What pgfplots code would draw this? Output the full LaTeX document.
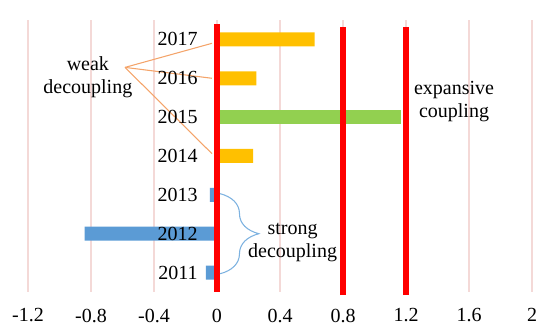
\documentclass[border=0pt]{standalone}
\usepackage{pgfplots}
\pgfplotsset{compat=1.18}
\usepackage{fontspec}
\setmainfont{Liberation Serif}
\usetikzlibrary{decorations.pathreplacing}
\definecolor{cOrange}{HTML}{FFC000}
\definecolor{cGreen}{HTML}{92D050}
\definecolor{cBlue}{HTML}{5B9BD5}
\definecolor{cRed}{HTML}{FF0000}
\definecolor{cGrid}{HTML}{F4D9D7}
\definecolor{cLine}{HTML}{F4A46A}
\definecolor{cBrace}{HTML}{7DB2E0}
\pgfplotsset{
  base/.style={
    at={(0,0)}, anchor=south west,
    scale only axis, width=378pt, height=204pt,
    xmin=-1.2, xmax=2, ymin=-0.5, ymax=6.5,
    axis line style={draw=none},
    major tick length=0pt,
    /pgf/number format/assume math mode=true,
    /pgf/number format/fixed,
    clip=false,
  }
}
\begin{document}
\begin{tikzpicture}
\begin{axis}[
  base,
  axis x line=bottom, axis y line=left,
  xtick={-1.2,-0.8,-0.4,0,0.4,0.8,1.2,1.6,2},
  ytick=\empty,
  xmajorgrids, major grid style={cGrid, line width=0.8pt},
  x tick label style={font=\fontsize{15}{16}\selectfont, yshift=-9pt},
]
\addplot[xbar, bar width=10.5pt, bar shift=0pt, fill=cBlue, draw=none]
  coordinates {(-0.07,0) (-0.84,1) (-0.045,2)};
\addplot[xbar, bar width=10.5pt, bar shift=0pt, fill=cOrange, draw=none]
  coordinates {(0.23,3) (0.25,5) (0.62,6)};
\addplot[xbar, bar width=10.5pt, bar shift=0pt, fill=cGreen, draw=none]
  coordinates {(1.17,4)};
\addplot[cRed, line width=4pt] coordinates {(0,-0.5) (0,6.4)};
\addplot[cRed, line width=4pt] coordinates {(0.8,-0.58) (0.8,6.32)};
\addplot[cRed, line width=4pt] coordinates {(1.2,-0.58) (1.2,6.32)};
\draw[cLine, line width=0.8pt] (axis cs:-0.584,5.28) -- (axis cs:-0.032,5.90);
\draw[cLine, line width=0.8pt] (axis cs:-0.584,5.28) -- (axis cs:-0.032,5.0);
\draw[cLine, line width=0.8pt] (axis cs:-0.584,5.28) -- (axis cs:-0.032,3.06);
\draw[cBrace, line width=0.8pt, decorate, decoration={brace, amplitude=29pt, aspect=0.5}]
  (axis cs:0.02,2.03) -- (axis cs:0.02,-0.03);
\node[align=center, font=\fontsize{15}{17.5}\selectfont] at (axis cs:-0.82,5.02) {weak\\decoupling};
\node[align=center, font=\fontsize{15}{17.5}\selectfont] at (axis cs:1.505,4.40) {expansive\\coupling};
\node[align=center, font=\fontsize{15}{17.5}\selectfont] at (axis cs:0.48,0.77) {strong\\decoupling};
\end{axis}
\begin{axis}[
  base,
  axis x line=none, axis y line=middle,
  ytick={0,1,2,3,4,5,6},
  yticklabels={2011,2012,2013,2014,2015,2016,2017},
  y tick label style={font=\fontsize{15}{16}\selectfont, anchor=east, xshift=-11pt},
]
\end{axis}
\pgfresetboundingbox
\path[use as bounding box] (-21pt,-29.25pt) rectangle (391.5pt,219pt);
\end{tikzpicture}
\end{document}
